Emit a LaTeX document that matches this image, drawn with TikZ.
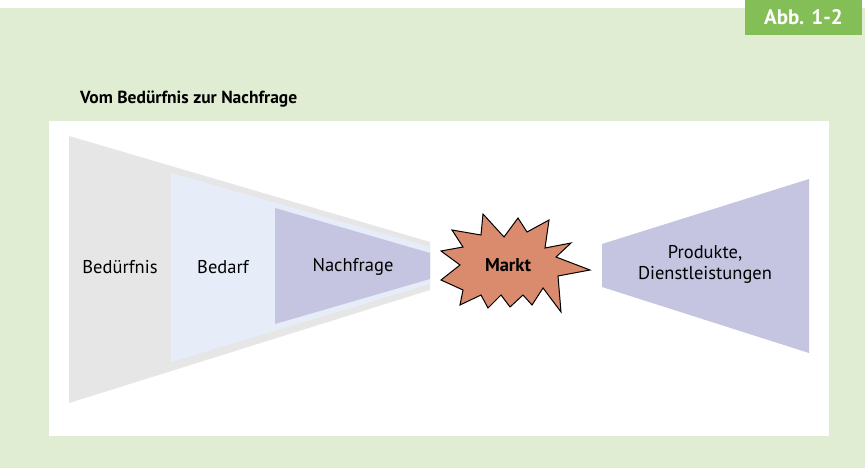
\documentclass[tikz,border=0pt]{standalone}
\usepackage{fontspec}
\setmainfont{PT Sans}
\definecolor{bggreen}{HTML}{E1EDD3}
\definecolor{tabgreen}{HTML}{84BE56}
\definecolor{needgrey}{HTML}{E6E6E6}
\definecolor{demandblue}{HTML}{E6EDF8}
\definecolor{lilac}{HTML}{C5C5E2}
\definecolor{salmon}{HTML}{DA8A6D}
\begin{document}
\begin{tikzpicture}[x=1pt,y=-1pt,
  lbl/.style={inner sep=0pt,font=\fontsize{18.5}{21}\selectfont,align=center}]
\useasboundingbox (0,0) rectangle (867,468);
\fill[bggreen] (0,8) rectangle (865,468);
\fill[tabgreen] (745,0) rectangle (862,35);
\node[inner sep=0pt,text=white,font=\fontsize{21}{24}\selectfont\bfseries] (abb) at (803.5,17.5) {Abb. 1-2};
\node[inner sep=0pt,anchor=west,font=\fontsize{17.5}{20}\selectfont\bfseries] (title) at (80,99) {Vom Bedürfnis zur Nachfrage};

\fill[white] (49,121) rectangle (829,436);

% trichter
\fill[needgrey] (69,136) -- (430,242) -- (430,290) -- (69,403) -- cycle;
\fill[demandblue] (171,173) -- (430,247) -- (430,284) -- (171,362) -- cycle;
\fill[lilac] (275,208) -- (430,253) -- (430,279) -- (275,324) -- cycle;
\node[lbl] (need) at (120,267) {Bedürfnis};
\node[lbl] (bedarf) at (223,267) {Bedarf};
\node[lbl] (nachfrage) at (353,267) {Nachfrage};

% markt
\filldraw[fill=salmon,draw=black,line width=1pt,line join=miter]
  (483,214) -- (504,237) -- (518,218) -- (527,232) -- (549,220) -- (545,248)
  -- (571,243) -- (556,257) -- (590,270) -- (558,276) -- (561,312) -- (543,288)
  -- (532,305) -- (523,295) -- (510,307) -- (501,295) -- (488,308) -- (481,295)
  -- (460,305) -- (463,290) -- (441,280) -- (460,265) -- (441,251) -- (463,247)
  -- (452,230) -- (481,235) -- cycle;
\node[lbl,font=\fontsize{18.5}{21}\selectfont\bfseries] (markt) at (508,265) {Markt};

% angebot
\fill[lilac] (602,244) -- (809,179) -- (809,353) -- (602,287) -- cycle;
\node[lbl] (angebot) at (705,264) {Produkte,\\Dienstleistungen};
\end{tikzpicture}
\end{document}
